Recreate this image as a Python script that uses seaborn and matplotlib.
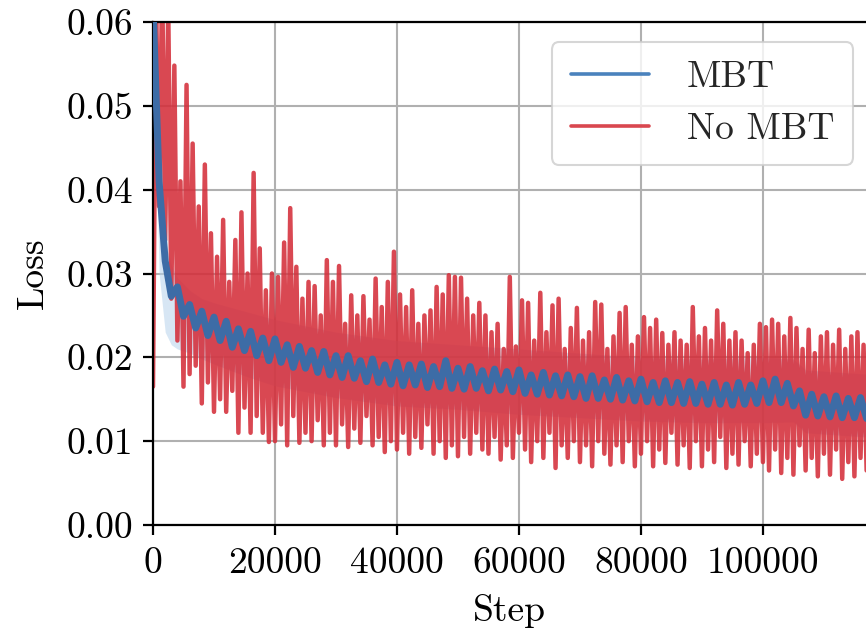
import numpy as np
import pandas as pd
import matplotlib
matplotlib.use("Agg")
import matplotlib.pyplot as plt
import seaborn as sns
from matplotlib.ticker import FormatStrFormatter

# ---------------- data (loss values in units of 1e-3) ----------------
red_steps = np.arange(0, 117001, 500)
red_loss_milli = [
    16.5, 63, 38, 65, 34, 62, 27, 54.8, 22, 41,
    16.5, 52.5, 18, 45.5, 19, 38, 14.5, 43, 17, 34.8,
    13.5, 32, 15, 36.4, 13.5, 29, 16, 34, 11, 37.3,
    14, 30, 11, 42, 13, 33, 11, 28, 9.9, 30,
    10, 29.6, 12, 33.7, 9.5, 37.8, 13, 30.8, 9.8, 27,
    11, 29, 10, 28.5, 12.5, 25, 9.5, 31.6, 11, 29,
    9.5, 30.9, 12, 24, 9.3, 27.4, 11.5, 25, 9.8, 27.3,
    13, 24.5, 9.5, 29.4, 10.5, 26, 8.7, 29, 10, 32.6,
    9, 27.5, 11, 26, 8.5, 28, 10.5, 24, 9.2, 25,
    12, 25.6, 8.5, 28.4, 10, 27.5, 8, 29.8, 9.5, 29.6,
    8.2, 29.5, 10.5, 27, 8.5, 25, 11, 26.5, 9, 25,
    8.5, 23, 10.5, 24, 7.8, 21, 9.5, 29.6, 8, 21.3,
    11, 26.8, 9, 26.5, 7.5, 22, 10, 27.7, 8, 23,
    11, 26.2, 6.8, 27, 9.5, 21, 8, 23.5, 10, 25.9,
    7.5, 22, 9.5, 23, 7, 26.6, 10, 26.3, 8.5, 21,
    7.2, 22.5, 9.5, 25.3, 7.5, 26, 10, 21.5, 7, 22.5,
    8.5, 24.8, 10, 23.5, 7, 24.5, 9, 22.9, 7.4, 21.5,
    11, 23, 7.2, 22, 9.5, 21.5, 6.8, 26, 10, 22.5,
    7, 23.5, 9, 22, 7.5, 25.6, 10.5, 24, 6.8, 22,
    8.5, 23, 7.2, 22, 10, 20.5, 7, 21.5, 8.5, 24,
    7.5, 23.6, 6.5, 24.5, 9, 24, 6.2, 22.5, 8, 24.7,
    6, 23.5, 9.5, 21, 6.5, 23.3, 8, 20.5, 5.8, 22.5,
    8.5, 23, 6, 21.5, 9, 23.3, 5.5, 21, 7.5, 22.5,
    5.8, 23, 8, 21.5, 6.5,
]

blue_steps = np.arange(0, 117001, 1000)
blue_loss_milli = [
    62, 41, 31.5, 27.3, 28.4, 24.9, 26.3, 23.5, 25.5, 22.6,
    24.8, 22.0, 24.3, 21.2, 23.4, 20.8, 23.1, 20.2, 22.3, 19.6,
    22.2, 19.4, 21.5, 18.8, 21.3, 18.7, 20.8, 18.2, 20.7, 17.9,
    20.2, 17.6, 20.2, 17.5, 19.6, 17.1, 19.8, 17.0, 19.1, 16.8,
    19.4, 16.6, 19.1, 16.7, 19.2, 16.4, 18.9, 16.5, 19.6, 16.3,
    18.7, 16.2, 18.9, 16.3, 18.4, 16.0, 18.6, 16.1, 18.3, 15.9,
    18.5, 15.7, 17.9, 15.6, 18.2, 15.5, 17.8, 15.4, 17.9, 15.3,
    17.7, 15.1, 17.8, 15.1, 17.3, 15.0, 17.6, 14.9, 17.2, 14.8,
    17.4, 14.7, 17.0, 14.6, 17.2, 14.6, 17.0, 14.5, 17.1, 14.5,
    16.8, 14.4, 17.0, 14.4, 16.7, 14.3, 17.0, 14.4, 16.7, 14.5,
    17.2, 14.6, 17.4, 14.6, 16.9, 14.2, 16.0, 13.1, 15.6, 13.0,
    15.3, 12.9, 15.4, 12.8, 15.1, 12.8, 15.2, 12.7,
]

band_steps = [0, 1000, 2000, 3000, 4000, 6000, 8000, 10000, 15000, 20000,
              30000, 40000, 50000, 60000, 70000, 80000, 90000, 100000,
              105000, 107000, 117000]
band_low_milli = [60, 30, 23, 21.5, 21, 20.5, 19.8, 19.2, 17.8, 16.6,
                  15.2, 14.2, 13.8, 13.2, 12.8, 12.4, 12.2, 12.2,
                  12.3, 11.0, 10.5]
band_high_milli = [62, 45, 34, 31, 29.5, 28, 27, 26.5, 25.5, 24.5,
                   23, 22, 21.5, 21, 20.5, 20, 19.8, 20,
                   19.8, 18.5, 18]

red_loss = np.array(red_loss_milli) / 1000.0
blue_loss = np.array(blue_loss_milli) / 1000.0
band_low = np.array(band_low_milli) / 1000.0
band_high = np.array(band_high_milli) / 1000.0

x_ticks = [0, 20000, 40000, 60000, 80000, 100000]
y_ticks = [0.00, 0.01, 0.02, 0.03, 0.04, 0.05, 0.06]

# ---------------- style ----------------
sns.set_theme(style="ticks")
plt.rcParams.update({
    "font.family": ["cmr10", "DejaVu Serif"],
    "mathtext.fontset": "cm",
    "axes.unicode_minus": False,
    "axes.formatter.use_mathtext": False,
})

BLUE = "#3d6ca6"
RED = "#d42e3a"
FS = 27

fig = plt.figure(figsize=(8.66, 6.31), dpi=100)
ax = fig.add_axes([153 / 866, 106 / 631, 713 / 866, 503 / 631])

ax.fill_between(band_steps, band_low, band_high, color="#b7d3ec", alpha=0.55,
                linewidth=0, zorder=1)
sns.lineplot(x=red_steps, y=red_loss, color=RED, alpha=0.88, linewidth=3.2,
             ax=ax, label="No MBT", zorder=2)
sns.lineplot(x=blue_steps, y=blue_loss, color=BLUE, alpha=1.0, linewidth=5.0,
             ax=ax, label="MBT", zorder=3)

ax.set_xlim(0, 116900)
ax.set_ylim(0, 0.06)
ax.set_xticks(x_ticks)
ax.set_yticks(y_ticks)
ax.yaxis.set_major_formatter(FormatStrFormatter("%.2f"))
ax.grid(True, color="#b0b0b0", linewidth=1.5, zorder=0)
ax.set_axisbelow(True)

for side in ["left", "bottom", "top"]:
    ax.spines[side].set_color("black")
    ax.spines[side].set_linewidth(1.6)
ax.spines["right"].set_visible(False)

ax.tick_params(axis="both", which="major", length=7, width=1.6, color="black",
               labelsize=FS, labelcolor="black")
ax.tick_params(axis="x", pad=9)
ax.tick_params(axis="y", pad=7)
ax.set_xlabel("Step", fontsize=FS, color="black", labelpad=10)
ax.set_ylabel("Loss", fontsize=FS, color="black", labelpad=12)

handles, labels = ax.get_legend_handles_labels()
order = [labels.index("MBT"), labels.index("No MBT")]
leg_handles = [plt.Line2D([], [], color="#4a82bd", linewidth=2.6),
               plt.Line2D([], [], color="#d9474f", linewidth=2.6)]
leg = ax.legend(leg_handles, [labels[i] for i in order],
                loc="upper right", bbox_to_anchor=(1 - 13 / 713, 1 - 20 / 503),
                borderaxespad=0, fontsize=FS, frameon=True, fancybox=True,
                framealpha=0.8, edgecolor="#cccccc", handlelength=2.1,
                handletextpad=1.0, borderpad=0.5, labelspacing=0.5)
leg.get_frame().set_linewidth(1.5)

fig.savefig("out.png", dpi=100)
